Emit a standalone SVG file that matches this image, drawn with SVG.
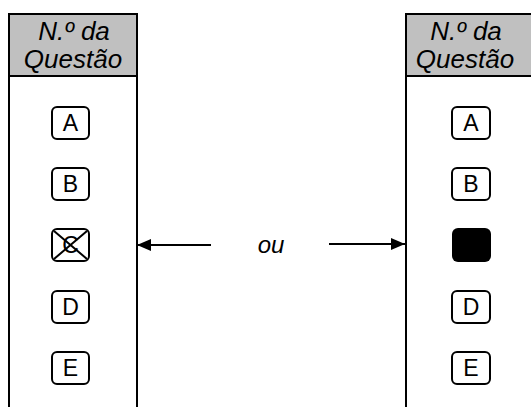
<svg xmlns="http://www.w3.org/2000/svg" width="531" height="407" viewBox="0 0 531 407">
<defs>
<style>
.col{fill:#fff;stroke:#000;stroke-width:2}
.hdr{fill:#c0c0c0;stroke:#000;stroke-width:2}
.ht{font-family:"Liberation Sans",Arial,sans-serif;font-style:italic;font-size:26px;fill:#000;text-anchor:middle}
.bx{fill:#fff;stroke:#000;stroke-width:2}
.lt{font-family:"Liberation Sans",Arial,sans-serif;font-size:23px;fill:#000;text-anchor:middle}
.ou{font-family:"Liberation Sans",Arial,sans-serif;font-style:italic;font-size:24px;fill:#000;text-anchor:middle}
.ln{stroke:#000;stroke-width:2;fill:none}
</style>
<marker id="ah" viewBox="0 0 14 12" refX="14" refY="6" markerWidth="14" markerHeight="12" markerUnits="userSpaceOnUse" orient="auto">
<path d="M0,0 L14,6 L0,12 Z" fill="#000"/>
</marker>
</defs>
<rect width="531" height="407" fill="#fff"/>
<g id="left-column">
<rect class="col" x="9" y="14" width="128" height="400"/>
<rect class="hdr" x="9" y="14" width="128" height="62"/>
<text class="ht" x="74" y="40">N.º da</text>
<text class="ht" x="73" y="68">Questão</text>
</g>
<g id="left-A"><rect class="bx" x="52" y="107" width="37" height="32" rx="5"/><text class="lt" x="70.5" y="131">A</text></g>
<g id="left-B"><rect class="bx" x="52" y="168" width="37" height="32" rx="5"/><text class="lt" x="70.5" y="192">B</text></g>
<g id="left-C"><rect class="bx" x="52" y="229" width="37" height="32" rx="5"/><text class="lt" x="70.5" y="253">C</text><path class="ln" d="M54,231 L87,259 M87,231 L54,259"/></g>
<g id="left-D"><rect class="bx" x="52" y="291" width="37" height="32" rx="5"/><text class="lt" x="70.5" y="315">D</text></g>
<g id="left-E"><rect class="bx" x="52" y="352" width="37" height="32" rx="5"/><text class="lt" x="70.5" y="376">E</text></g>
<g id="right-column">
<rect class="col" x="406" y="14" width="130" height="400"/>
<rect class="hdr" x="406" y="14" width="130" height="62"/>
<text class="ht" x="466" y="40">N.º da</text>
<text class="ht" x="465" y="68">Questão</text>
</g>
<g id="right-A"><rect class="bx" x="452" y="107" width="38" height="32" rx="5"/><text class="lt" x="471" y="131">A</text></g>
<g id="right-B"><rect class="bx" x="452" y="168" width="38" height="32" rx="5"/><text class="lt" x="471" y="192">B</text></g>
<g id="right-C"><rect x="452" y="228" width="39" height="34" rx="6" fill="#000"/></g>
<g id="right-D"><rect class="bx" x="452" y="291" width="38" height="32" rx="5"/><text class="lt" x="471" y="315">D</text></g>
<g id="right-E"><rect class="bx" x="452" y="352" width="38" height="32" rx="5"/><text class="lt" x="471" y="376">E</text></g>
<g id="label-ou"><text class="ou" x="271" y="253">ou</text></g>
<g id="connectors">
<line class="ln" x1="211" y1="245" x2="137" y2="245" marker-end="url(#ah)"/>
<line class="ln" x1="329" y1="244" x2="405" y2="244" marker-end="url(#ah)"/>
</g>
</svg>
